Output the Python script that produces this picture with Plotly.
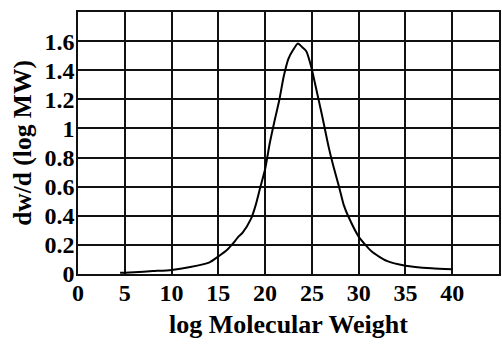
import plotly.graph_objects as go

log_mw = [4.5, 6, 8, 10, 12, 14, 15, 16, 16.5, 17.2, 17.6, 18.5, 19.0, 19.5, 20.0, 20.5,
          21.0, 21.5, 22.0, 22.5, 23.0, 23.5, 24.0, 24.4, 24.9, 25.4, 26.1, 26.8, 27.3,
          27.9, 28.4, 28.9, 30.0, 31.4, 33.0, 35.0, 37.8, 40.0]
dw = [0.008, 0.012, 0.02, 0.028, 0.048, 0.078, 0.12, 0.17, 0.205, 0.26, 0.285, 0.38,
      0.475, 0.60, 0.72, 0.90, 1.05, 1.19, 1.36, 1.48, 1.54, 1.584, 1.556, 1.53, 1.43,
      1.29, 1.085, 0.87, 0.74, 0.60, 0.475, 0.395, 0.257, 0.154, 0.09, 0.057, 0.039, 0.032]

x_ticks = [0, 5, 10, 15, 20, 25, 30, 35, 40]
y_ticks = [0, 0.2, 0.4, 0.6, 0.8, 1.0, 1.2, 1.4, 1.6]
y_tick_text = ["0", "0.2", "0.4", "0.6", "0.8", "1", "1.2", "1.4", "1.6"]

font = "'Times New Roman', 'Liberation Serif', 'DejaVu Serif', serif"

fig = go.Figure()
fig.add_trace(go.Scatter(x=log_mw, y=dw, mode="lines",
                         line=dict(color="black", width=2, shape="spline", smoothing=0.6),
                         showlegend=False))

fig.update_layout(
    width=502, height=344,
    margin=dict(l=78, r=1, t=12, b=70),
    paper_bgcolor="white", plot_bgcolor="white",
    font=dict(family=font, size=24, color="black"),
)
fig.update_xaxes(
    range=[0, 45], tickvals=x_ticks, ticktext=["<b>%d</b>" % v for v in x_ticks],
    showgrid=True, gridcolor="#111", gridwidth=1.5,
    showline=True, linecolor="#111", linewidth=1.5, mirror=True,
    ticks="", zeroline=False, ticklabelstandoff=-4,
    tickfont=dict(family=font, size=24, color="black"),
    title=dict(text="<b>log Molecular Weight</b>", font=dict(family=font, size=26), standoff=10),
)
fig.update_yaxes(
    range=[0, 1.8], tickvals=y_ticks, ticktext=["<b>%s</b>" % t for t in y_tick_text],
    showgrid=True, gridcolor="#111", gridwidth=1.5,
    showline=True, linecolor="#111", linewidth=1.5, mirror=True,
    ticks="", zeroline=False, ticklabelstandoff=-3,
    tickfont=dict(family=font, size=24, color="black"),
    title=dict(text="<b>dw/d (log MW)</b>", font=dict(family=font, size=25.5), standoff=6),
)

fig.write_html("out.html")
